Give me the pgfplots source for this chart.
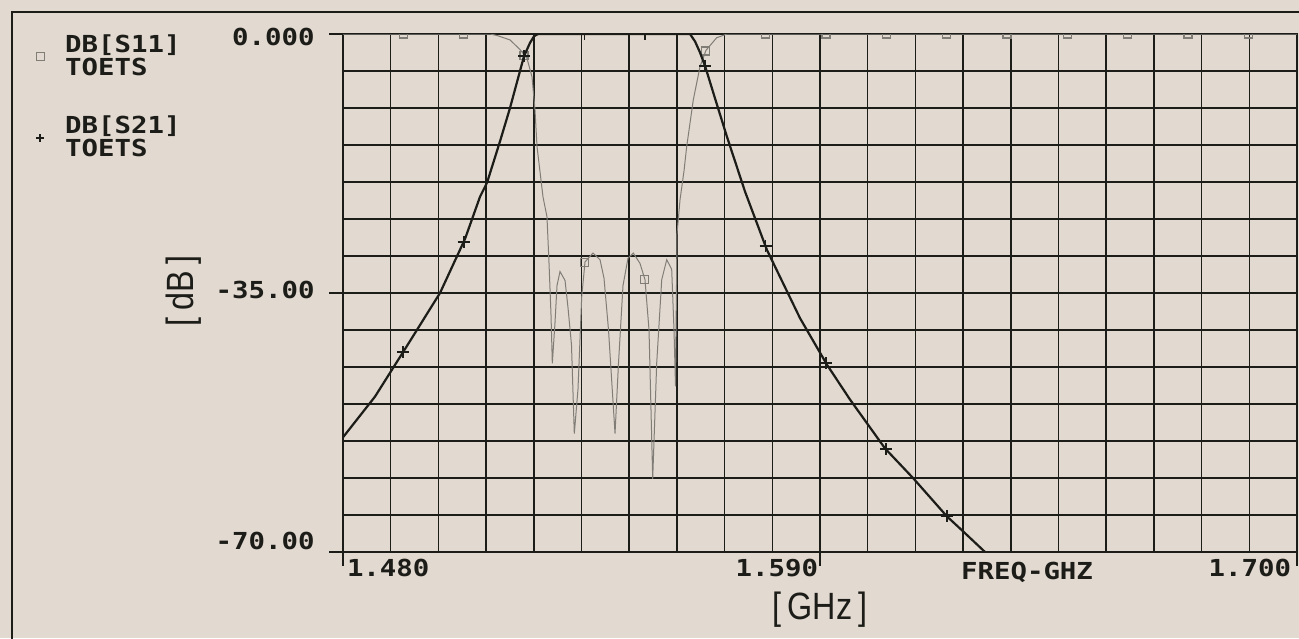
\documentclass[border=0pt]{standalone}
\usepackage{pgfplots}
\pgfplotsset{compat=1.18}
\usepackage{fontspec}
\newfontfamily\hpfont{DejaVu Sans Mono}[FakeStretch=1.17]
\newfontfamily\lblfont{Liberation Sans}[FakeStretch=0.85]
\definecolor{bg}{RGB}{226,217,208}
\definecolor{ink}{RGB}{28,28,24}
\definecolor{sgray}{RGB}{128,125,119}
\newcommand{\hpf}{\fontsize{11.7pt}{11.5pt}\hpfont\bfseries}
\begin{document}
\begin{tikzpicture}[x=0.5pt,y=0.5pt]
\fill[bg] (0,0) rectangle (1299,638);
\useasboundingbox (0,0) rectangle (1299,638);
\draw[ink, line width=0.8pt] (12,-20) rectangle (1330,626);
\begin{axis}[
  at={(171.5pt,43pt)}, anchor=south west,
  scale only axis, width=477pt, height=259pt,
  xmin=1.48, xmax=1.70, ymin=-70, ymax=0,
  xtick={1.48,1.59,1.70},
  xticklabels={\rlap{\hspace{2pt}1.480}, \llap{1.590\hspace{1pt}}, \llap{1.700\hspace{3pt}}},
  minor xtick={1.491,1.502,1.513,1.524,1.535,1.546,1.557,1.568,1.579,1.601,1.612,1.623,1.634,1.645,1.656,1.667,1.678,1.689},
  ytick={-70,-35,0},
  yticklabels={\raisebox{1.25pt}[0pt][0pt]{-70.00}, \raisebox{-2.75pt}[0pt][0pt]{-35.00}, \raisebox{-5.6pt}[0pt][0pt]{0.000}},
  minor ytick={-65,-60,-55,-50,-45,-40,-30,-25,-20,-15,-10,-5},
  grid=both,
  major grid style={ink, line width=0.75pt},
  minor grid style={ink, line width=0.75pt},
  axis line style={ink, line width=0.8pt},
  tick pos=left, tick align=outside,
  major tick length=7pt, minor tick length=0pt,
  tick style={ink, line width=0.7pt},
  tick label style={font=\hpf, text=ink},
  xticklabel style={anchor=north, inner sep=0pt, yshift=3.5pt},
  yticklabel style={anchor=east, inner sep=0pt, xshift=-7pt},
  clip marker paths=true,
  xlabel={FREQ-GHZ},
  xlabel style={at={(axis description cs:0.717,0)}, anchor=north, inner sep=0pt, font=\hpf, text=ink, yshift=-5pt},
  legend style={draw=none, fill=none, at={(axis description cs:-0.322,1.0)}, anchor=north west,
    inner sep=0pt, row sep=19pt, column sep=10.5pt, font=\hpf, text=ink,
    nodes={inner sep=0pt, align=left}},
  legend cell align=left,
]
% S11 curve
\addplot[sgray, line width=0.5pt, forget plot] coordinates {
(1.48000,0) (1.51390,0) (1.51551,-0.2) (1.51851,-0.8) (1.52082,-2.1) (1.52243,-3.3)
(1.52359,-5.8) (1.52428,-10.3) (1.52474,-15.2) (1.52612,-22.0) (1.52704,-24.7)
(1.52751,-31) (1.52797,-38) (1.52827,-44.5) (1.52889,-39) (1.52935,-34) (1.53004,-32.1)
(1.53120,-33.3) (1.53189,-37) (1.53269,-42) (1.53334,-54.0) (1.53419,-48) (1.53505,-35.5)
(1.53581,-30.8) (1.53765,-29.6) (1.53927,-30.5) (1.54019,-33) (1.54123,-40) (1.54273,-54.0)
(1.54353,-44.5) (1.54457,-34) (1.54572,-30.3) (1.54695,-29.6) (1.54849,-31) (1.54964,-33.2)
(1.55057,-40) (1.55142,-60.1) (1.55234,-44.5) (1.55350,-33.2) (1.55465,-30.5) (1.55580,-31.8)
(1.55633,-40) (1.55668,-47.6) (1.55702,-27) (1.55772,-22.4) (1.55864,-18.5) (1.55926,-15.2)
(1.56078,-8.9) (1.56233,-4.4) (1.56371,-2.2) (1.56618,-0.5) (1.56855,0) (1.70000,0)
};
\addplot[only marks, mark=square, mark size=2pt, sgray, mark options={line width=0.6pt}] coordinates {
(1.49392,0) (1.50784,0) (1.52176,-2.9) (1.53568,-30.9) (1.54960,-33.2) (1.56352,-2.3)
(1.57744,0) (1.59136,0) (1.60528,0) (1.61920,0) (1.63312,0) (1.64704,0) (1.66096,0) (1.67488,0) (1.68880,0)
};
\addlegendentry{DB[S11]\\TOETS}
% S21 curve
\addplot[ink, line width=1.1pt, forget plot] coordinates {
(1.48000,-54.5) (1.48738,-49.0) (1.49384,-43.0) (1.50237,-35.0) (1.50813,-27.7)
(1.51159,-22.0) (1.51321,-20.1) (1.51621,-14.5) (1.51851,-10.0) (1.52174,-3.0)
(1.52312,-1.2) (1.52405,-0.3) (1.52497,0) (1.56002,0) (1.56118,-1.0) (1.56233,-2.5)
(1.56348,-4.3) (1.56579,-8.7) (1.56855,-13.9) (1.57271,-21.3) (1.57778,-29.2)
(1.58539,-38.4) (1.59162,-44.7) (1.59692,-49.4) (1.60499,-56.0) (1.61145,-60.0)
(1.61929,-65.2) (1.62298,-67.2) (1.62805,-70.0)
};
\addplot[only marks, mark=+, mark size=3pt, ink, mark options={line width=0.9pt},
  legend image post style={mark size=2pt}] coordinates {
(1.49392,-43.0) (1.50784,-28.1) (1.52176,-3.0) (1.53568,0) (1.54960,0) (1.56352,-4.3)
(1.57744,-28.7) (1.59136,-44.5) (1.60528,-56.1) (1.61920,-65.2)
};
\addlegendentry{DB[S21]\\TOETS}
\end{axis}
\node[rotate=90, font={\fontsize{19pt}{20pt}\lblfont}, text=ink] at (184,347) {[\,dB\,]};
\node[font={\fontsize{19pt}{20pt}\lblfont}, text=ink] at (820,28) {[\,GHz\,]};
\end{tikzpicture}
\end{document}
